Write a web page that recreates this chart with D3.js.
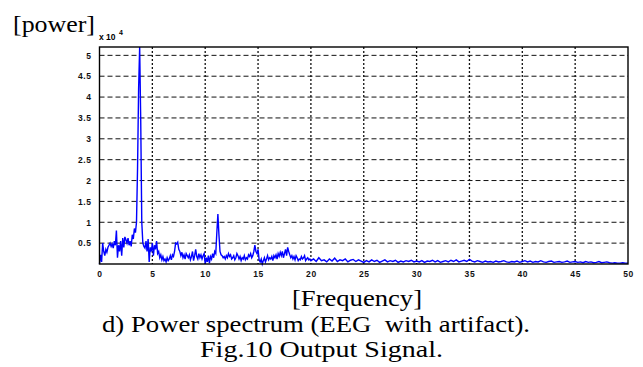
<!DOCTYPE html>
<html><head><meta charset="utf-8">
<script src="https://cdn.jsdelivr.net/npm/d3@7/dist/d3.min.js"></script>
<style>body{margin:0;background:#fff}svg{display:block}text{white-space:pre}</style>
</head><body><svg id="c" width="643" height="367"></svg>
<script>
// Power values in units of 1e4; low band 0..20 Hz every 0.1 Hz
const lowStart = 0, lowStep = 0.1;
const powerLow = [
0.0,0.22,0.05,0.5,0.3,0.2,0.35,0.28,0.4,0.45,
0.5,0.42,0.48,0.38,0.55,0.45,0.8,0.15,0.45,0.3,
0.55,0.2,0.62,0.4,0.65,0.58,0.5,0.62,0.45,0.55,
0.42,0.7,0.6,0.85,0.75,1.0,2.3,4.2,5.2,3.45,
1.0,0.5,0.42,0.38,0.55,0.3,0.6,0.05,0.4,0.3,
0.5,0.2,0.45,0.35,0.55,0.25,0.3,0.15,0.22,0.1,
0.18,0.08,0.12,0.05,0.15,0.08,0.12,0.2,0.1,0.22,
0.18,0.3,0.5,0.48,0.52,0.35,0.3,0.2,0.28,0.15,
0.22,0.12,0.25,0.2,0.15,0.22,0.1,0.18,0.3,0.08,
0.2,0.35,0.18,0.12,0.25,0.15,0.22,0.12,0.2,0.25,
0.0,0.15,0.05,0.2,0.02,0.18,0.12,0.25,0.15,0.3,
0.25,0.75,1.2,0.7,0.3,0.22,0.2,0.15,0.18,0.12,
0.2,0.15,0.25,0.18,0.22,0.12,0.15,0.2,0.1,0.15,
0.25,0.2,0.12,0.18,0.08,0.15,0.12,0.2,0.1,0.15,
0.12,0.22,0.18,0.25,0.15,0.2,0.3,0.45,0.3,0.25,
0.35,0.1,0.05,0.12,0.0,0.08,0.15,0.05,0.12,0.2,
0.1,0.15,0.12,0.18,0.08,0.2,0.15,0.22,0.12,0.25,
0.18,0.28,0.2,0.3,0.15,0.25,0.35,0.2,0.4,0.3,
0.22,0.15,0.2,0.12,0.18,0.1,0.2,0.15,0.08,0.12,
0.1,0.18,0.12,0.15,0.2,0.08,0.12,0.15,0.1,0.12,
0.08];
// high band 20.25..50 Hz every 0.25 Hz
const highStart = 20.25, highStep = 0.25;
const powerHigh = [
0.12,0.06,0.15,0.08,0.1,0.05,0.12,0.07,0.14,0.06,0.1,0.08,0.12,0.05,0.09,0.11,0.06,0.1,0.07,0.04,
0.08,0.05,0.1,0.06,0.09,0.04,0.07,0.1,0.05,0.08,0.06,0.09,0.04,0.07,0.05,0.08,0.06,0.09,0.05,0.07,
0.05,0.08,0.04,0.07,0.06,0.09,0.05,0.08,0.04,0.06,0.08,0.05,0.09,0.06,0.1,0.05,0.07,0.09,0.06,0.11,
0.07,0.05,0.08,0.06,0.04,0.07,0.05,0.06,0.04,0.07,0.05,0.06,0.08,0.05,0.04,0.06,0.05,0.07,0.04,0.06,
0.08,0.05,0.07,0.04,0.06,0.05,0.08,0.05,0.04,0.06,0.07,0.04,0.05,0.06,0.04,0.05,0.07,0.04,0.05,0.06,
0.04,0.05,0.03,0.06,0.04,0.05,0.03,0.04,0.06,0.03,0.04,0.05,0.03,0.02,0.03,0.02,0.02,0.03,0.02,0.02];
const xTicks = [0,5,10,15,20,25,30,35,40,45,50];
const yTicks = [0.5,1,1.5,2,2.5,3,3.5,4,4.5,5];
const yTickLabels = ["0.5","1","1.5","2","2.5","3","3.5","4","4.5","5"];

const pts = powerLow.map((v,i)=>[lowStart+i*lowStep, v])
  .concat(powerHigh.map((v,i)=>[highStart+i*highStep, v]));

const L=99.5, R=628, T=47, B=264;
const x = d3.scaleLinear().domain([0,50]).range([L,R]);
const y = d3.scaleLinear().domain([0,5.2]).range([B,T]);
const svg = d3.select("#c");

// grid
svg.append("g").selectAll("line").data(yTicks).join("line")
  .attr("x1",L).attr("x2",R).attr("y1",d=>y(d)).attr("y2",d=>y(d))
  .attr("stroke","#111").attr("stroke-width",1).attr("stroke-dasharray","5,3");
svg.append("g").selectAll("line").data(xTicks.slice(1,-1)).join("line")
  .attr("y1",T).attr("y2",B).attr("x1",d=>x(d)).attr("x2",d=>x(d))
  .attr("stroke","#111").attr("stroke-width",1.3).attr("stroke-dasharray","2,2");

// line
svg.append("path").datum(pts)
  .attr("d", d3.line().x(d=>x(d[0])).y(d=>y(d[1])))
  .attr("fill","none").attr("stroke","#0000ff").attr("stroke-width",1.4);

// frame
svg.append("rect").attr("x",L).attr("y",T).attr("width",R-L).attr("height",B-T)
  .attr("fill","none").attr("stroke","#000").attr("stroke-width",1.4);

const ax = svg.append("g").attr("transform",`translate(0,${B})`)
  .call(d3.axisBottom(x).tickValues(xTicks).tickSize(0).tickPadding(7).tickFormat(d3.format("d")));
const ay = svg.append("g").attr("transform",`translate(${L},0)`)
  .call(d3.axisLeft(y).tickValues(yTicks).tickSize(0).tickPadding(8).tickFormat((d,i)=>yTickLabels[i]));
[ax,ay].forEach(g=>{g.select(".domain").remove();
  g.selectAll("text").attr("font-family","'Liberation Sans',Arial,sans-serif")
   .attr("font-size","8.5px").attr("font-weight","bold").attr("fill","#111").attr("letter-spacing","0.6");});

// exponent
svg.append("text").attr("x",99).attr("y",40).attr("font-family","'Liberation Sans',Arial,sans-serif")
  .attr("font-size","8.5px").attr("font-weight","bold").text("x 10");
svg.append("text").attr("x",119).attr("y",35).attr("font-family","'Liberation Sans',Arial,sans-serif")
  .attr("font-size","7px").attr("font-weight","bold").text("4");

const serif = "'Liberation Serif','Times New Roman',serif";
function big(txt,x0,yb,len){svg.append("text").attr("x",x0).attr("y",yb).attr("font-family",serif)
  .attr("font-size","24px").attr("textLength",len).attr("lengthAdjust","spacingAndGlyphs").text(txt);}
big("[power]",13,32,82);
big("[Frequency]",292,306,130);
big("d) Power spectrum (EEG\u00a0 with artifact).",102,332,428);
big("Fig.10 Output Signal.",200,357,243);
</script></body></html>
